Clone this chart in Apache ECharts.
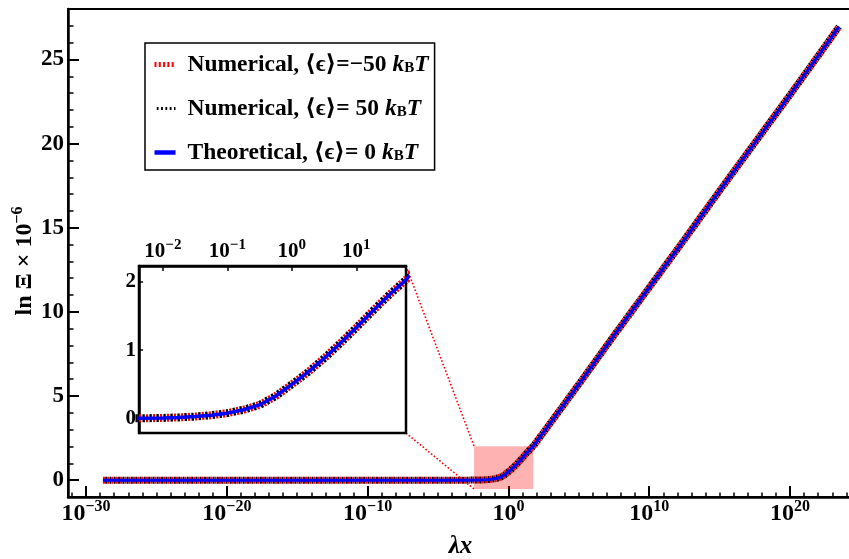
<!DOCTYPE html>
<html><head><meta charset="utf-8">
<script src="https://cdn.jsdelivr.net/npm/echarts@6/dist/echarts.min.js"></script>
<style>html,body{margin:0;padding:0;background:#fff}#c{width:849px;height:559px}</style>
</head><body><div id="c"></div>
<script>
// ---- data (x stored as log10(λx)) ----
const logX = [-28.8, -25, -20, -15, -10, -6, -4, -3, -2.37, -2.0, -1.75, -1.5, -1.25, -1.0, -0.75, -0.5, -0.25, 0, 0.25, 0.5, 0.75, 1.0, 1.25, 1.5, 1.77, 2.5, 3, 5, 7.5, 10, 12.5, 15, 17.5, 20, 22.5, 23.48];
const numNeg50 = [0, 0, 0, 0, 0, 0, 0.001, 0.002, 0.005, 0.01, 0.018, 0.03, 0.05, 0.08, 0.13, 0.2, 0.33, 0.5, 0.68, 0.88, 1.1, 1.33, 1.57, 1.8, 2.03, 2.85, 3.42, 5.7, 8.6, 11.45, 14.3, 17.2, 20.05, 22.9, 25.8, 26.95];
const numPos50 = [0, 0, 0, 0, 0, 0, 0.001, 0.002, 0.005, 0.01, 0.018, 0.03, 0.05, 0.08, 0.13, 0.2, 0.33, 0.5, 0.68, 0.88, 1.1, 1.33, 1.57, 1.8, 2.03, 2.85, 3.42, 5.7, 8.6, 11.45, 14.3, 17.2, 20.05, 22.9, 25.8, 26.95];
const theory0  = [0, 0, 0, 0, 0, 0, 0.001, 0.002, 0.005, 0.01, 0.018, 0.03, 0.05, 0.08, 0.13, 0.2, 0.33, 0.5, 0.68, 0.88, 1.1, 1.33, 1.57, 1.8, 2.03, 2.85, 3.42, 5.7, 8.6, 11.45, 14.3, 17.2, 20.05, 22.9, 25.8, 26.95];
const seriesNames = ['Numerical, ⟨ϵ⟩=−50 kBT', 'Numerical, ⟨ϵ⟩= 50 kBT', 'Theoretical, ⟨ϵ⟩= 0 kBT'];
const legendTexts = ['Numerical, ⟨ϵ⟩=−50 ', 'Numerical, ⟨ϵ⟩= 50 ', 'Theoretical, ⟨ϵ⟩= 0 '];
const mainXTicks = [-30, -20, -10, 0, 10, 20];
const mainYTicks = [0, 5, 10, 15, 20, 25];
const insetXTicks = [-2, -1, 0, 1];
const insetYTicks = [0, 1, 2];
const zoomBox = {x0: -2.44, x1: 1.76, y0: -0.53, y1: 2.02};

// ---- layout ----
const FONT = "'Liberation Serif','DejaVu Serif',serif";
const MAIN = {left: 68, top: 9, width: 785, height: 488};
const INSET = {left: 139, top: 266, width: 267, height: 167};
const MX = {min: -31.28, max: -31.28 + 785 / 14.08};
const MY = {min: -1, max: 28};
const IX = {min: -2.37, max: 1.77};
const IY = {min: -0.21, max: 2.23};
const COLORS = ['#ff0000', '#000000', '#0000ff'];

const range = (a, b) => { const r = []; for (let i = a; i <= b; i++) r.push(i); return r; };
const pts = vals => logX.map((x, i) => [x, vals[i]]);
const sup = v => { const e = Math.round(v); return '{b|10}{s|' + (e < 0 ? '−' + (-e) : '' + e) + '}'; };

const chart = echarts.init(document.getElementById('c'), null, {renderer: 'canvas'});
const richMain = {
  b: {fontFamily: FONT, fontWeight: 'bold', fontSize: 24, lineHeight: 27, verticalAlign: 'bottom', color: '#000'},
  s: {fontFamily: FONT, fontWeight: 'bold', fontSize: 16, lineHeight: 12, verticalAlign: 'top', color: '#000'}
};
const richInset = {
  b: {fontFamily: FONT, fontWeight: 'bold', fontSize: 21, lineHeight: 24, verticalAlign: 'bottom', color: '#000'},
  s: {fontFamily: FONT, fontWeight: 'bold', fontSize: 15, lineHeight: 11, verticalAlign: 'top', color: '#000'}
};
const mainStyles = [
  {color: COLORS[0], width: 7, type: [2, 2.3], dashOffset: 0},
  {color: COLORS[1], width: 7, type: [1.8, 2.5], dashOffset: 2},
  {color: COLORS[2], width: 3, type: 'solid'}
];
const insetStyles = [
  {color: COLORS[0], width: 8, type: [2.2, 4.8], dashOffset: 3.5},
  {color: COLORS[1], width: 8, type: [2.4, 4.6], dashOffset: 0},
  {color: COLORS[2], width: 3.5, type: 'solid'}
];
const valsArr = [numNeg50, numPos50, theory0];

const series = [{
  type: 'line', xAxisIndex: 0, yAxisIndex: 0, data: [], silent: true, z: 1,
  markArea: {silent: true, itemStyle: {color: 'rgba(255,0,0,0.3)'},
    data: [[{coord: [zoomBox.x0, zoomBox.y0]}, {coord: [zoomBox.x1, zoomBox.y1]}]]}
}];
for (let k = 0; k < 3; k++) {
  series.push({name: seriesNames[k], type: 'line', xAxisIndex: 0, yAxisIndex: 0, data: pts(valsArr[k]),
    symbol: 'none', showSymbol: false, itemStyle: {color: COLORS[k]}, lineStyle: mainStyles[k], z: 3 + k});
}
for (let k = 0; k < 3; k++) {
  series.push({name: seriesNames[k], type: 'line', xAxisIndex: 2, yAxisIndex: 2, data: pts(valsArr[k]),
    symbol: 'none', showSymbol: false, itemStyle: {color: COLORS[k]}, lineStyle: insetStyles[k], z: 12 + k, clip: true});
}

const tick = (w, len, inside, vals) => ({show: true, inside: inside, length: len, customValues: vals, lineStyle: {color: '#000', width: w}});
chart.setOption({
  animation: false,
  backgroundColor: '#fff',
  grid: [
    Object.assign({show: true, borderColor: '#000', borderWidth: 2, backgroundColor: 'transparent', outerBoundsMode: 'none', containLabel: false}, MAIN),
    Object.assign({show: true, borderColor: '#000', borderWidth: 2.5, backgroundColor: '#fff', z: 10, outerBoundsMode: 'none', containLabel: false}, INSET)
  ],
  xAxis: [
    {gridIndex: 0, type: 'value', position: 'bottom', min: MX.min, max: MX.max,
      axisLine: {show: true, onZero: false, lineStyle: {color: '#000', width: 2.5}},
      axisTick: tick(2, 11, true, mainXTicks),
      axisLabel: {customValues: mainXTicks, formatter: v => sup(v), margin: 2, rich: richMain},
      splitLine: {show: false},
      name: 'λx', nameLocation: 'middle', nameGap: 37, nameMoveOverlap: false,
      nameTextStyle: {fontFamily: FONT, fontStyle: 'italic', fontWeight: 'bold', fontSize: 25, color: '#000'}},
    // minor decade ticks: a top axis shifted down onto the bottom edge
    {gridIndex: 0, type: 'value', position: 'top', offset: -MAIN.height, min: MX.min, max: MX.max,
      axisLine: {show: false, onZero: false}, axisLabel: {show: false}, splitLine: {show: false},
      axisTick: tick(1.5, 4.5, false, range(-31, 24))},
    {gridIndex: 1, type: 'value', position: 'top', min: IX.min, max: IX.max, z: 11,
      axisLine: {show: true, onZero: false, lineStyle: {color: '#000', width: 2.5}},
      axisTick: tick(1.5, 5, true, insetXTicks),
      axisLabel: {customValues: insetXTicks, formatter: v => sup(v), margin: 4, rich: richInset},
      splitLine: {show: false}}
  ],
  yAxis: [
    {gridIndex: 0, type: 'value', position: 'left', min: MY.min, max: MY.max,
      axisLine: {show: true, onZero: false, lineStyle: {color: '#000', width: 2.5}},
      axisTick: tick(2, 11, true, mainYTicks),
      axisLabel: {customValues: mainYTicks, margin: 4, fontFamily: FONT, fontWeight: 'bold', fontSize: 23, color: '#000'},
      splitLine: {show: false},
      name: '{b|ln Ξ × 10}{s|−6}', nameLocation: 'middle', nameGap: 31, nameMoveOverlap: false,
      nameTextStyle: {padding: [0, 16, 0, 0], rich: {
        b: {fontFamily: FONT, fontWeight: 'bold', fontSize: 24, lineHeight: 27, verticalAlign: 'bottom', color: '#000'},
        s: {fontFamily: FONT, fontWeight: 'bold', fontSize: 16, lineHeight: 12, verticalAlign: 'top', color: '#000'}}}},
    // minor unit ticks: a right axis shifted onto the left edge
    {gridIndex: 0, type: 'value', position: 'right', offset: -MAIN.width, min: MY.min, max: MY.max,
      axisLine: {show: false, onZero: false}, axisLabel: {show: false}, splitLine: {show: false},
      axisTick: tick(1.5, 5.5, false, range(0, 28))},
    {gridIndex: 1, type: 'value', position: 'left', min: IY.min, max: IY.max, z: 11,
      axisLine: {show: true, onZero: false, lineStyle: {color: '#000', width: 2.5}},
      axisTick: tick(1.5, 4, true, insetYTicks),
      axisLabel: {customValues: insetYTicks, margin: 3, fontFamily: FONT, fontWeight: 'bold', fontSize: 21, color: '#000'},
      splitLine: {show: false}}
  ],
  legend: {
    orient: 'vertical', left: 145, top: 43, padding: [10, 6, 5, 7], itemGap: 20,
    itemWidth: 21, itemHeight: 10, borderColor: '#000', borderWidth: 1.5, backgroundColor: '#fff',
    selectedMode: false, z: 20,
    data: [
      {name: seriesNames[0], itemStyle: {opacity: 0}, lineStyle: {width: 5}},
      {name: seriesNames[1], itemStyle: {opacity: 0}, lineStyle: {width: 3}},
      {name: seriesNames[2], itemStyle: {opacity: 0}, lineStyle: {width: 4.5}}
    ],
    formatter: name => '{t|' + legendTexts[seriesNames.indexOf(name)] + '}{i|k}{sub|B}{i|T}',
    textStyle: {rich: {
      t: {fontFamily: FONT, fontWeight: 'bold', fontSize: 23.5, lineHeight: 23, verticalAlign: 'top', padding: [0, 0, 0, 7], color: '#000'},
      i: {fontFamily: FONT, fontWeight: 'bold', fontStyle: 'italic', fontSize: 23.5, lineHeight: 23, verticalAlign: 'top', color: '#000'},
      sub: {fontFamily: FONT, fontWeight: 'bold', fontSize: 15, lineHeight: 8, verticalAlign: 'bottom', color: '#000'}
    }}
  },
  series: series
});

// connectors from the inset corners to the highlighted region
const tl = chart.convertToPixel({gridIndex: 0}, [zoomBox.x0, zoomBox.y1]);
const bl = chart.convertToPixel({gridIndex: 0}, [zoomBox.x0, zoomBox.y0]);
const ix = INSET.left + INSET.width;
const conn = (x1, y1, x2, y2) => ({type: 'line', z: 5, silent: true,
  shape: {x1: x1, y1: y1, x2: x2, y2: y2},
  style: {stroke: '#ff0000', lineWidth: 1.6, lineDash: [1.6, 2]}});
chart.setOption({graphic: [
  conn(ix, INSET.top, tl[0], tl[1]),
  conn(ix, INSET.top + INSET.height, bl[0], bl[1])
]});
</script></body></html>
